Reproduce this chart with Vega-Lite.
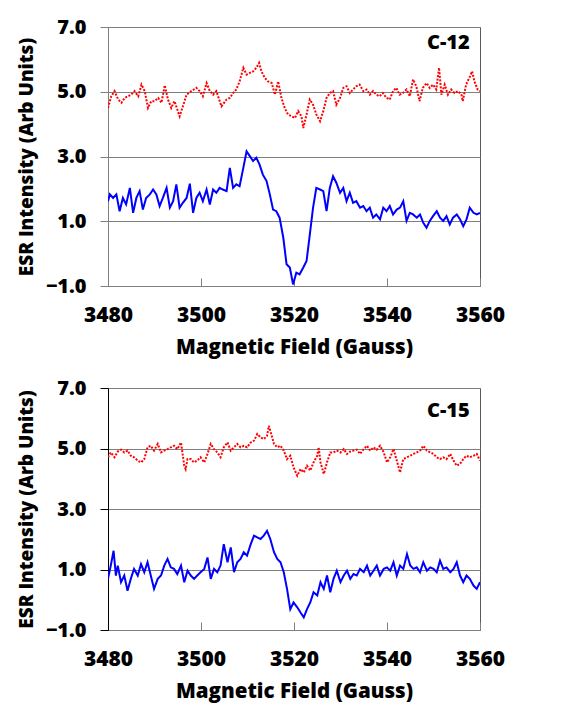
{
 "$schema": "https://vega.github.io/schema/vega-lite/v6.json",
 "padding": {"left": 16, "top": 16, "right": 5, "bottom": 5},
 "background": "white",
 "config": {
  "font": "Open Sans",
  "view": {"stroke": "#595959", "strokeWidth": 1},
  "concat": {"spacing": 19},
  "axis": {
   "labelFont": "Open Sans", "labelFontWeight": 800, "labelColor": "black",
   "titleFont": "Open Sans", "titleFontWeight": 800, "titleColor": "black",
   "gridColor": "#808080", "gridWidth": 1.2, "domainColor": "#808080", "tickColor": "#808080", "labelFlush": false
  },
  "axisY": {"labelFontSize": 20, "tickSize": 8, "labelPadding": 14, "titlePadding": 9, "titleFontSize": 19, "grid": true},
  "axisX": {"labelFontSize": 21, "tickSize": -8, "labelPadding": 26, "titlePadding": 12, "titleFontSize": 20.5, "grid": false}
 },
 "datasets": {
  "c12r": [
   {"f":3480.0,"v":4.50},{"f":3480.7,"v":4.86},{"f":3481.4,"v":5.02},{"f":3482.2,"v":4.76},{"f":3482.9,"v":4.66},{"f":3483.6,"v":4.81},{"f":3484.3,"v":4.86},{"f":3485.0,"v":4.91},{"f":3485.7,"v":5.02},{"f":3486.5,"v":4.86},{"f":3487.2,"v":5.22},{"f":3487.9,"v":5.02},{"f":3488.6,"v":4.50},{"f":3489.3,"v":4.71},{"f":3490.0,"v":4.71},{"f":3490.8,"v":4.81},{"f":3491.5,"v":4.66},{"f":3492.2,"v":5.20},{"f":3492.9,"v":4.76},{"f":3493.6,"v":4.50},{"f":3494.3,"v":4.71},{"f":3495.4,"v":4.24},{"f":3496.1,"v":4.55},{"f":3496.9,"v":4.91},{"f":3497.9,"v":5.02},{"f":3499.0,"v":5.12},{"f":3499.7,"v":5.02},{"f":3500.4,"v":4.86},{"f":3501.2,"v":5.27},{"f":3501.9,"v":5.02},{"f":3502.6,"v":4.91},{"f":3503.3,"v":5.02},{"f":3504.4,"v":4.55},{"f":3505.5,"v":4.76},{"f":3506.2,"v":4.81},{"f":3506.9,"v":4.96},{"f":3507.6,"v":5.07},{"f":3508.3,"v":5.32},{"f":3509.1,"v":5.74},{"f":3509.8,"v":5.53},{"f":3510.5,"v":5.58},{"f":3511.2,"v":5.63},{"f":3511.9,"v":5.74},{"f":3512.5,"v":5.89},{"f":3513.0,"v":5.63},{"f":3513.7,"v":5.43},{"f":3514.4,"v":5.32},{"f":3515.2,"v":5.27},{"f":3515.9,"v":4.91},{"f":3516.6,"v":5.32},{"f":3517.3,"v":4.81},{"f":3518.0,"v":4.50},{"f":3518.7,"v":4.30},{"f":3519.5,"v":4.24},{"f":3520.2,"v":4.19},{"f":3520.9,"v":4.40},{"f":3521.6,"v":4.24},{"f":3522.0,"v":3.88},{"f":3522.7,"v":4.30},{"f":3523.4,"v":4.76},{"f":3524.1,"v":4.60},{"f":3524.8,"v":4.30},{"f":3525.6,"v":4.09},{"f":3526.3,"v":4.40},{"f":3527.0,"v":4.81},{"f":3527.7,"v":4.96},{"f":3528.4,"v":5.02},{"f":3529.1,"v":4.60},{"f":3529.9,"v":4.81},{"f":3530.6,"v":5.12},{"f":3531.3,"v":5.17},{"f":3532.0,"v":4.96},{"f":3532.7,"v":5.07},{"f":3533.4,"v":5.17},{"f":3534.1,"v":5.22},{"f":3534.9,"v":5.02},{"f":3535.6,"v":5.07},{"f":3536.3,"v":4.91},{"f":3537.0,"v":5.02},{"f":3537.7,"v":4.91},{"f":3538.4,"v":4.86},{"f":3539.1,"v":4.96},{"f":3539.9,"v":4.81},{"f":3540.6,"v":4.76},{"f":3541.3,"v":5.02},{"f":3542.0,"v":5.12},{"f":3542.7,"v":4.91},{"f":3543.4,"v":4.96},{"f":3544.2,"v":5.07},{"f":3544.9,"v":4.86},{"f":3545.6,"v":5.38},{"f":3546.3,"v":5.17},{"f":3547.0,"v":4.71},{"f":3547.7,"v":5.12},{"f":3548.5,"v":5.27},{"f":3549.2,"v":5.12},{"f":3549.9,"v":5.22},{"f":3550.6,"v":5.07},{"f":3551.2,"v":5.74},{"f":3551.7,"v":4.91},{"f":3552.4,"v":5.22},{"f":3553.1,"v":4.91},{"f":3553.8,"v":5.07},{"f":3554.5,"v":4.96},{"f":3555.3,"v":5.02},{"f":3556.0,"v":4.91},{"f":3556.3,"v":4.71},{"f":3557.0,"v":5.22},{"f":3557.7,"v":5.43},{"f":3558.3,"v":5.63},{"f":3558.8,"v":5.32},{"f":3559.5,"v":5.07},{"f":3560.0,"v":5.02}
  ],
  "c12b": [
   {"f":3480.0,"v":1.62},{"f":3480.4,"v":1.83},{"f":3481.1,"v":1.72},{"f":3481.8,"v":1.83},{"f":3482.5,"v":1.31},{"f":3483.2,"v":1.72},{"f":3483.9,"v":1.52},{"f":3484.7,"v":2.03},{"f":3485.4,"v":1.26},{"f":3486.1,"v":1.72},{"f":3486.8,"v":1.93},{"f":3487.5,"v":1.36},{"f":3488.2,"v":1.72},{"f":3489.0,"v":1.83},{"f":3489.7,"v":1.98},{"f":3490.4,"v":1.83},{"f":3491.1,"v":1.47},{"f":3491.8,"v":1.72},{"f":3492.6,"v":2.03},{"f":3493.3,"v":1.42},{"f":3494.0,"v":1.62},{"f":3494.7,"v":2.14},{"f":3495.4,"v":1.42},{"f":3496.1,"v":1.57},{"f":3496.9,"v":1.72},{"f":3497.6,"v":2.16},{"f":3498.3,"v":1.26},{"f":3499.0,"v":1.72},{"f":3499.7,"v":1.88},{"f":3500.4,"v":1.62},{"f":3501.2,"v":1.98},{"f":3501.9,"v":1.52},{"f":3502.6,"v":1.98},{"f":3503.3,"v":1.88},{"f":3504.0,"v":2.03},{"f":3504.7,"v":1.98},{"f":3505.5,"v":1.93},{"f":3506.2,"v":2.65},{"f":3506.9,"v":2.03},{"f":3507.6,"v":2.14},{"f":3508.3,"v":2.08},{"f":3509.1,"v":2.65},{"f":3509.8,"v":3.16},{"f":3510.5,"v":3.01},{"f":3511.2,"v":2.86},{"f":3511.9,"v":2.96},{"f":3512.6,"v":2.75},{"f":3513.3,"v":2.44},{"f":3514.1,"v":2.24},{"f":3514.8,"v":1.83},{"f":3515.5,"v":1.36},{"f":3516.2,"v":1.31},{"f":3516.9,"v":1.11},{"f":3517.7,"v":0.49},{"f":3518.4,"v":-0.33},{"f":3519.1,"v":-0.43},{"f":3519.8,"v":-0.95},{"f":3520.5,"v":-0.59},{"f":3521.2,"v":-0.64},{"f":3522.0,"v":-0.43},{"f":3522.7,"v":-0.23},{"f":3523.4,"v":0.59},{"f":3524.1,"v":1.42},{"f":3524.8,"v":2.03},{"f":3525.6,"v":1.98},{"f":3526.3,"v":1.93},{"f":3527.0,"v":1.31},{"f":3527.7,"v":2.03},{"f":3528.4,"v":2.39},{"f":3529.1,"v":2.19},{"f":3529.9,"v":1.88},{"f":3530.6,"v":2.03},{"f":3531.3,"v":1.62},{"f":3532.0,"v":1.88},{"f":3532.7,"v":1.57},{"f":3533.4,"v":1.62},{"f":3534.2,"v":1.42},{"f":3534.9,"v":1.47},{"f":3535.6,"v":1.31},{"f":3536.3,"v":1.42},{"f":3537.0,"v":1.11},{"f":3537.7,"v":1.21},{"f":3538.5,"v":1.06},{"f":3539.2,"v":1.42},{"f":3539.9,"v":1.31},{"f":3540.6,"v":1.47},{"f":3541.3,"v":1.21},{"f":3542.1,"v":1.36},{"f":3542.8,"v":1.42},{"f":3543.5,"v":1.62},{"f":3544.2,"v":1.01},{"f":3544.9,"v":1.26},{"f":3545.6,"v":1.21},{"f":3546.4,"v":1.11},{"f":3547.1,"v":1.21},{"f":3547.8,"v":0.95},{"f":3548.5,"v":0.80},{"f":3549.2,"v":1.01},{"f":3549.9,"v":1.16},{"f":3550.7,"v":1.31},{"f":3551.4,"v":1.11},{"f":3552.1,"v":1.01},{"f":3552.8,"v":1.16},{"f":3553.5,"v":0.90},{"f":3554.2,"v":1.11},{"f":3555.0,"v":1.21},{"f":3555.7,"v":1.06},{"f":3556.4,"v":0.85},{"f":3557.1,"v":1.06},{"f":3557.8,"v":1.42},{"f":3558.6,"v":1.26},{"f":3559.3,"v":1.21},{"f":3560.0,"v":1.26}
  ],
  "c15r": [
   {"f":3480.0,"v":4.71},{"f":3480.6,"v":4.87},{"f":3481.4,"v":4.71},{"f":3482.1,"v":4.90},{"f":3482.8,"v":4.96},{"f":3483.5,"v":4.87},{"f":3484.2,"v":4.93},{"f":3484.9,"v":4.76},{"f":3485.6,"v":4.71},{"f":3486.4,"v":4.60},{"f":3487.1,"v":4.54},{"f":3487.8,"v":4.65},{"f":3488.5,"v":5.04},{"f":3489.2,"v":5.09},{"f":3489.9,"v":4.93},{"f":3490.7,"v":5.15},{"f":3491.4,"v":4.87},{"f":3492.1,"v":4.93},{"f":3492.8,"v":4.98},{"f":3493.5,"v":5.04},{"f":3494.2,"v":5.09},{"f":3494.9,"v":4.98},{"f":3495.7,"v":5.20},{"f":3496.4,"v":4.43},{"f":3496.7,"v":4.32},{"f":3497.1,"v":4.65},{"f":3497.8,"v":4.65},{"f":3498.5,"v":4.54},{"f":3499.2,"v":4.60},{"f":3499.9,"v":4.71},{"f":3500.7,"v":4.54},{"f":3501.4,"v":4.82},{"f":3502.1,"v":5.15},{"f":3502.8,"v":4.98},{"f":3503.5,"v":4.87},{"f":3504.2,"v":4.71},{"f":3504.9,"v":5.04},{"f":3505.7,"v":5.20},{"f":3506.4,"v":4.93},{"f":3507.1,"v":5.04},{"f":3507.8,"v":5.15},{"f":3508.5,"v":5.04},{"f":3509.2,"v":5.09},{"f":3509.9,"v":5.04},{"f":3510.7,"v":5.20},{"f":3511.4,"v":5.26},{"f":3512.1,"v":5.48},{"f":3512.8,"v":5.37},{"f":3513.5,"v":5.31},{"f":3514.2,"v":5.42},{"f":3514.6,"v":5.75},{"f":3514.9,"v":5.59},{"f":3515.7,"v":5.15},{"f":3516.4,"v":5.04},{"f":3517.1,"v":5.09},{"f":3517.8,"v":4.93},{"f":3518.5,"v":4.65},{"f":3519.2,"v":4.76},{"f":3519.9,"v":4.38},{"f":3520.7,"v":4.10},{"f":3521.4,"v":4.32},{"f":3522.1,"v":4.21},{"f":3522.8,"v":4.43},{"f":3523.5,"v":4.27},{"f":3524.2,"v":4.54},{"f":3525.0,"v":4.76},{"f":3525.3,"v":5.04},{"f":3525.7,"v":4.54},{"f":3526.4,"v":4.16},{"f":3527.1,"v":4.54},{"f":3527.8,"v":4.87},{"f":3528.5,"v":4.87},{"f":3529.2,"v":4.93},{"f":3530.0,"v":4.87},{"f":3530.7,"v":4.98},{"f":3531.4,"v":4.82},{"f":3532.1,"v":4.90},{"f":3532.8,"v":4.93},{"f":3533.5,"v":4.96},{"f":3534.2,"v":4.82},{"f":3535.0,"v":4.98},{"f":3535.7,"v":5.09},{"f":3536.4,"v":4.93},{"f":3537.1,"v":5.04},{"f":3537.8,"v":4.96},{"f":3538.5,"v":5.09},{"f":3539.3,"v":4.87},{"f":3540.0,"v":4.54},{"f":3540.7,"v":4.71},{"f":3541.4,"v":4.98},{"f":3542.1,"v":4.60},{"f":3542.8,"v":4.21},{"f":3543.5,"v":4.65},{"f":3544.3,"v":4.71},{"f":3545.0,"v":4.76},{"f":3545.7,"v":4.82},{"f":3546.4,"v":4.87},{"f":3547.1,"v":4.93},{"f":3547.8,"v":5.09},{"f":3548.6,"v":4.93},{"f":3549.3,"v":4.87},{"f":3550.0,"v":4.82},{"f":3550.7,"v":4.71},{"f":3551.4,"v":4.65},{"f":3552.1,"v":4.71},{"f":3552.8,"v":4.65},{"f":3553.6,"v":4.82},{"f":3554.3,"v":4.60},{"f":3555.0,"v":4.43},{"f":3555.7,"v":4.49},{"f":3556.4,"v":4.65},{"f":3557.1,"v":4.76},{"f":3557.8,"v":4.71},{"f":3558.6,"v":4.76},{"f":3559.3,"v":4.82},{"f":3560.0,"v":4.60}
  ],
  "c15b": [
   {"f":3480.0,"v":0.69},{"f":3480.6,"v":1.13},{"f":3481.2,"v":1.62},{"f":3481.7,"v":0.80},{"f":3482.1,"v":1.13},{"f":3482.8,"v":0.58},{"f":3483.5,"v":0.80},{"f":3484.2,"v":0.30},{"f":3484.9,"v":0.69},{"f":3485.6,"v":1.02},{"f":3486.4,"v":0.80},{"f":3487.1,"v":1.18},{"f":3487.8,"v":0.91},{"f":3488.5,"v":1.24},{"f":3489.2,"v":0.80},{"f":3489.9,"v":0.36},{"f":3490.7,"v":0.69},{"f":3491.4,"v":0.80},{"f":3492.1,"v":1.13},{"f":3492.8,"v":1.35},{"f":3493.5,"v":1.07},{"f":3494.2,"v":1.02},{"f":3494.9,"v":0.85},{"f":3495.7,"v":1.13},{"f":3496.4,"v":0.58},{"f":3497.1,"v":0.96},{"f":3497.8,"v":0.80},{"f":3498.5,"v":0.69},{"f":3499.2,"v":0.80},{"f":3499.9,"v":0.91},{"f":3500.7,"v":1.02},{"f":3501.4,"v":1.40},{"f":3502.1,"v":0.69},{"f":3502.8,"v":1.02},{"f":3503.5,"v":0.91},{"f":3504.2,"v":1.13},{"f":3504.9,"v":1.84},{"f":3505.7,"v":1.24},{"f":3506.4,"v":1.73},{"f":3507.1,"v":0.91},{"f":3507.8,"v":1.24},{"f":3508.5,"v":1.35},{"f":3509.2,"v":1.57},{"f":3509.9,"v":1.46},{"f":3510.7,"v":1.84},{"f":3511.4,"v":2.12},{"f":3512.1,"v":2.06},{"f":3512.8,"v":2.01},{"f":3513.5,"v":2.12},{"f":3514.2,"v":2.28},{"f":3514.9,"v":2.01},{"f":3515.7,"v":1.57},{"f":3516.4,"v":1.35},{"f":3517.1,"v":1.24},{"f":3517.8,"v":0.91},{"f":3518.5,"v":0.36},{"f":3519.2,"v":-0.31},{"f":3519.9,"v":-0.09},{"f":3520.7,"v":-0.25},{"f":3521.4,"v":-0.42},{"f":3522.1,"v":-0.58},{"f":3522.8,"v":-0.31},{"f":3523.5,"v":-0.09},{"f":3524.2,"v":0.25},{"f":3525.0,"v":0.14},{"f":3525.7,"v":0.58},{"f":3526.4,"v":0.36},{"f":3527.1,"v":0.80},{"f":3527.8,"v":0.25},{"f":3528.5,"v":0.69},{"f":3529.2,"v":0.96},{"f":3530.0,"v":0.58},{"f":3530.7,"v":0.80},{"f":3531.4,"v":0.96},{"f":3532.1,"v":0.69},{"f":3532.8,"v":0.85},{"f":3533.5,"v":0.80},{"f":3534.2,"v":1.02},{"f":3535.0,"v":0.91},{"f":3535.7,"v":1.13},{"f":3536.4,"v":0.80},{"f":3537.1,"v":0.96},{"f":3537.8,"v":1.13},{"f":3538.5,"v":0.80},{"f":3539.3,"v":1.02},{"f":3540.0,"v":1.07},{"f":3540.7,"v":0.96},{"f":3541.4,"v":1.24},{"f":3542.1,"v":0.80},{"f":3542.8,"v":1.13},{"f":3543.5,"v":1.02},{"f":3544.3,"v":1.51},{"f":3545.0,"v":1.13},{"f":3545.7,"v":1.02},{"f":3546.4,"v":1.07},{"f":3547.1,"v":0.91},{"f":3547.8,"v":1.24},{"f":3548.6,"v":0.96},{"f":3549.3,"v":1.07},{"f":3550.0,"v":1.02},{"f":3550.7,"v":0.91},{"f":3551.4,"v":1.29},{"f":3552.1,"v":1.02},{"f":3552.8,"v":1.07},{"f":3553.6,"v":0.91},{"f":3554.3,"v":1.02},{"f":3555.0,"v":1.24},{"f":3555.7,"v":0.80},{"f":3556.4,"v":0.58},{"f":3557.1,"v":0.80},{"f":3557.8,"v":0.69},{"f":3558.6,"v":0.47},{"f":3559.3,"v":0.36},{"f":3560.0,"v":0.58}
  ]
 },
 "vconcat": [
  {
   "width": 372, "height": 259,
   "layer": [
    {
     "data": {"name": "c12r"},
     "mark": {"type": "line", "color": "#FF0000", "strokeWidth": 2, "strokeDash": [2, 1.5], "clip": true},
     "encoding": {
      "x": {"field": "f", "type": "quantitative", "scale": {"domain": [3480, 3560], "nice": false},
            "axis": {"values": [3480, 3500, 3520, 3540, 3560], "format": "d", "title": "Magnetic Field (Gauss)"}},
      "y": {"field": "v", "type": "quantitative", "scale": {"domain": [-1, 7], "nice": false},
            "axis": {"values": [-1, 1, 3, 5, 7], "format": ".1f", "title": "ESR Intensity (Arb Units)"}}
     }
    },
    {
     "data": {"name": "c12b"},
     "mark": {"type": "line", "color": "#0000FF", "strokeWidth": 2, "clip": true},
     "encoding": {
      "x": {"field": "f", "type": "quantitative"},
      "y": {"field": "v", "type": "quantitative"}
     }
    },
    {
     "data": {"values": [{}]},
     "mark": {"type": "text", "align": "right", "baseline": "middle", "fontSize": 20, "fontWeight": 800, "font": "Open Sans", "color": "black"},
     "encoding": {"x": {"datum": 3557.8}, "y": {"datum": 6.5}, "text": {"value": "C-12"}}
    }
   ]
  },
  {
   "width": 372, "height": 242,
   "layer": [
    {
     "data": {"name": "c15r"},
     "mark": {"type": "line", "color": "#FF0000", "strokeWidth": 2, "strokeDash": [2, 1.5], "clip": true},
     "encoding": {
      "x": {"field": "f", "type": "quantitative", "scale": {"domain": [3480, 3560], "nice": false},
            "axis": {"values": [3480, 3500, 3520, 3540, 3560], "format": "d", "title": "Magnetic Field (Gauss)"}},
      "y": {"field": "v", "type": "quantitative", "scale": {"domain": [-1, 7], "nice": false},
            "axis": {"values": [-1, 1, 3, 5, 7], "format": ".1f", "title": "ESR Intensity (Arb Units)", "domainColor": "black", "tickColor": "black"}}
     }
    },
    {
     "data": {"name": "c15b"},
     "mark": {"type": "line", "color": "#0000FF", "strokeWidth": 2, "clip": true},
     "encoding": {
      "x": {"field": "f", "type": "quantitative"},
      "y": {"field": "v", "type": "quantitative"}
     }
    },
    {
     "data": {"values": [{}]},
     "mark": {"type": "text", "align": "right", "baseline": "middle", "fontSize": 20, "fontWeight": 800, "font": "Open Sans", "color": "black"},
     "encoding": {"x": {"datum": 3557.8}, "y": {"datum": 6.24}, "text": {"value": "C-15"}}
    }
   ]
  }
 ]
}
